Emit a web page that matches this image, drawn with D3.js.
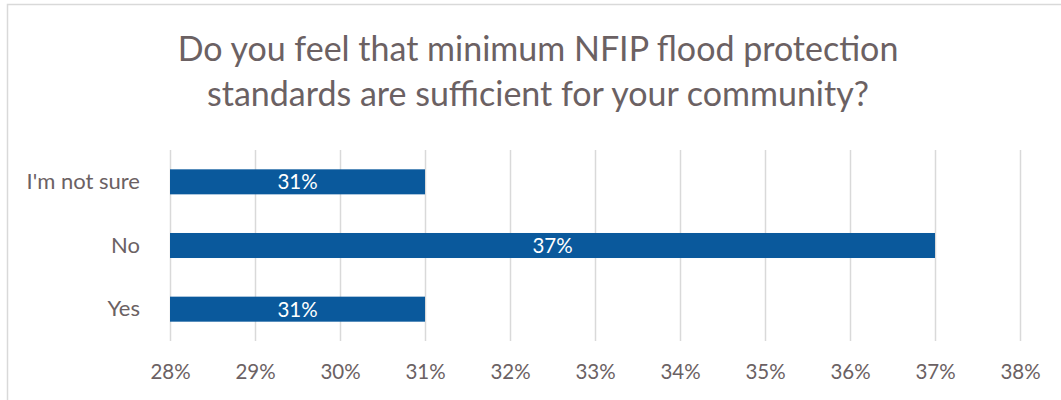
<!DOCTYPE html>
<html><head><meta charset="utf-8">
<script src="https://cdn.jsdelivr.net/npm/d3@7"></script>
<style>body{margin:0;background:#fff}svg{display:block}text{font-family:Lato,"Open Sans",sans-serif}</style>
</head><body><svg id="c" width="1061" height="400"></svg>
<script>
const categories = ["I'm not sure", "No", "Yes"];
const values = [31, 37, 31];
const tickValues = [28, 29, 30, 31, 32, 33, 34, 35, 36, 37, 38];
const titleLines = ["Do you feel that minimum NFIP flood protection", "standards are sufficient for your community?"];

const svg = d3.select("#c");
const textColor = "#6b6163";
svg.append("rect").attr("x", 7.5).attr("y", 4.5).attr("width", 1070).attr("height", 420)
  .attr("fill", "#fff").attr("stroke", "#d9d9d9").attr("stroke-width", 1.5);

const x = d3.scaleLinear().domain([28, 38]).range([170, 1020]);
const y = d3.scaleBand().domain(categories).range([150, 341]).paddingInner(0.607).paddingOuter(0.3035);

svg.append("g").selectAll("text").data(titleLines).join("text")
  .attr("x", 538).attr("y", (d, i) => 61 + i * 45).attr("text-anchor", "middle")
  .style("font-size", "34px").attr("fill", textColor).text(d => d);

svg.append("g").selectAll("line").data(tickValues).join("line")
  .attr("x1", d => x(d) + 0.5).attr("x2", d => x(d) + 0.5).attr("y1", 150).attr("y2", 341)
  .attr("stroke", "#d9d9d9").attr("stroke-width", 1.5);

const xAxis = svg.append("g").attr("transform", "translate(0,341)")
  .call(d3.axisBottom(x).tickValues(tickValues).tickFormat(d => d + "%").tickSize(0).tickPadding(0));
xAxis.select(".domain").remove();
xAxis.selectAll("text").attr("dy", null).attr("y", 38).style("font-size", "20.5px").attr("fill", textColor).style("font-family", "Lato");

const yAxis = svg.append("g").attr("transform", "translate(140,0)")
  .call(d3.axisLeft(y).tickSize(0).tickPadding(0));
yAxis.select(".domain").remove();
yAxis.selectAll("text").style("font-size", "22px").attr("fill", textColor).style("font-family", "Lato");

svg.append("g").selectAll("rect").data(categories).join("rect")
  .attr("x", x(28)).attr("y", d => y(d)).attr("height", y.bandwidth())
  .attr("width", (d, i) => x(values[i]) - x(28)).attr("fill", "#0a599c");

svg.append("g").selectAll("text").data(categories).join("text")
  .attr("x", (d, i) => (x(28) + x(values[i])) / 2).attr("y", d => y(d) + y.bandwidth() / 2)
  .attr("dy", "0.36em").attr("text-anchor", "middle").style("font-size", "20.5px").attr("fill", "#fff")
  .text((d, i) => values[i] + "%");
</script></body></html>
